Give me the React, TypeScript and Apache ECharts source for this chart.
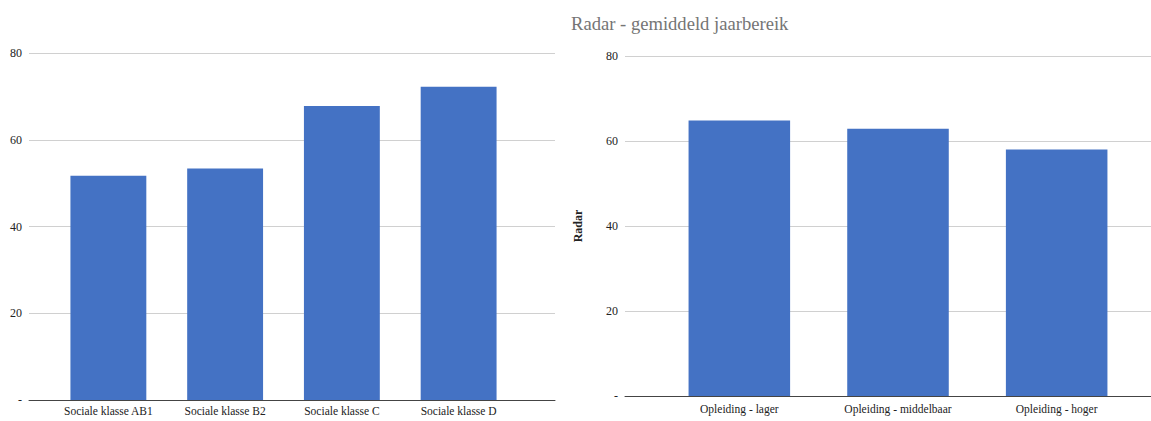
import React, { useEffect, useRef } from "react";
import * as echarts from "echarts";

const leftCategories = ["Sociale klasse AB1", "Sociale klasse B2", "Sociale klasse C", "Sociale klasse D"];
const leftValues = [51.7, 53.4, 67.8, 72.2];
const rightCategories = ["Opleiding - lager", "Opleiding - middelbaar", "Opleiding - hoger"];
const rightValues = [64.8, 62.9, 58];
const yTicks = [0, 20, 40, 60, 80];
const titleText = "Radar - gemiddeld jaarbereik";
const yAxisName = "Radar";

const FONT = "'Liberation Serif', 'Times New Roman', serif";
const BAR = "#4472C4";

export default function App() {
  const ref = useRef<HTMLDivElement>(null);
  useEffect(() => {
    if (!ref.current) return;
    const chart = echarts.init(ref.current, undefined, { renderer: "svg" });
    const yMax = yTicks[yTicks.length - 1];
    const yInterval = yTicks[1] - yTicks[0];
    const axisY = (grid: number, named: boolean) => ({
      type: "value",
      gridIndex: grid,
      min: 0,
      max: yMax,
      interval: yInterval,
      name: named ? yAxisName : undefined,
      nameLocation: "middle",
      nameRotate: 90,
      nameGap: 41,
      nameTextStyle: { fontFamily: FONT, fontSize: 12, fontWeight: "bold", color: "#222" },
      axisLine: { show: false },
      axisTick: { show: false },
      axisLabel: {
        fontFamily: FONT,
        fontSize: 12,
        color: "#222",
        margin: 7,
        formatter: (v: number) => (v === 0 ? "-" : String(v)),
      },
      splitLine: { show: true, lineStyle: { color: "#d0d0d0", width: 1 } },
    });
    const hiddenY = (grid: number) => ({
      type: "value",
      gridIndex: grid,
      min: 0,
      max: yMax,
      interval: yInterval,
      show: false,
    });
    const lineX = (grid: number) => ({
      type: "value",
      gridIndex: grid,
      min: 0,
      max: 1,
      axisLine: { show: true, onZero: false, lineStyle: { color: "#444", width: 1 } },
      axisTick: { show: false },
      axisLabel: { show: false },
      splitLine: { show: false },
    });
    const catX = (grid: number, data: string[], margin: number) => ({
      type: "category",
      gridIndex: grid,
      data,
      boundaryGap: true,
      axisLine: { show: false },
      axisTick: { show: false },
      axisLabel: { fontFamily: FONT, fontSize: 11.5, color: "#222", margin, interval: 0 },
      splitLine: { show: false },
    });
    chart.setOption({
      animation: false,
      backgroundColor: "#fff",
      title: {
        text: titleText,
        left: 566,
        top: 9,
        textStyle: { fontFamily: FONT, fontSize: 18.6, fontWeight: "normal", color: "#757575" },
      },
      grid: [
        { left: 29, right: 596, top: 53, height: 347 },
        { left: 50, right: 634, top: 53, height: 347 },
        { left: 625, right: 0, top: 56, height: 340 },
        { left: 660, right: 15, top: 56, height: 340 },
      ],
      xAxis: [lineX(0), catX(1, leftCategories, 5), lineX(2), catX(3, rightCategories, 7)],
      yAxis: [axisY(0, false), hiddenY(1), axisY(2, true), hiddenY(3)],
      series: [
        {
          type: "bar",
          xAxisIndex: 1,
          yAxisIndex: 1,
          data: leftValues,
          barWidth: "65%",
          itemStyle: { color: BAR },
        },
        {
          type: "bar",
          xAxisIndex: 3,
          yAxisIndex: 3,
          data: rightValues,
          barWidth: "64%",
          itemStyle: { color: BAR },
        },
      ],
    });
    return () => chart.dispose();
  }, []);
  return (
    <div
      ref={ref}
      style={{ position: "fixed", left: 0, top: 0, width: 1151, height: 421, background: "#fff" }}
    />
  );
}
